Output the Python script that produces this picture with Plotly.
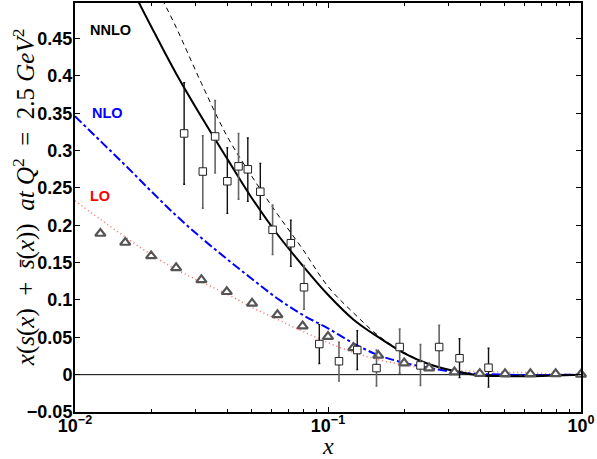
import plotly.graph_objects as go

# ---------------- data ----------------
# curves: x positions (log10) and values
nnlo_logx = [-1.80, -1.75, -1.70, -1.60, -1.50, -1.40, -1.30, -1.20, -1.10, -1.00,
             -0.90, -0.80, -0.70, -0.60, -0.50, -0.40, -0.30, -0.20, -0.10, 0.00]
nnlo_y = [0.535, 0.500, 0.467, 0.403, 0.345, 0.290, 0.236, 0.188, 0.146, 0.107,
          0.074, 0.050, 0.029, 0.014, 0.005, -0.001, -0.002, -0.002, -0.001, 0.000]

nnlo2_logx = [-1.70, -1.651, -1.60, -1.50, -1.40, -1.30, -1.20, -1.10, -1.00,
              -0.90, -0.80, -0.70, -0.60, -0.50, -0.40, -0.30, -0.20, -0.10, 0.00]
nnlo2_y = [0.535, 0.500, 0.465, 0.390, 0.320, 0.265, 0.215, 0.168, 0.118,
           0.083, 0.052, 0.030, 0.014, 0.005, -0.001, -0.002, -0.002, -0.001, 0.000]

nlo_logx = [-2.0, -1.9, -1.8, -1.7, -1.6, -1.5, -1.4, -1.3, -1.2, -1.1, -1.0,
            -0.9, -0.8, -0.7, -0.6, -0.5, -0.4, -0.3, -0.2, -0.1, 0.0]
nlo_y = [0.346, 0.313, 0.280, 0.246, 0.213, 0.183, 0.155, 0.128, 0.102, 0.080, 0.062,
         0.042, 0.026, 0.016, 0.009, 0.0035, 0.001, 0.0, -0.0005, -0.0003, 0.0]

lo_logx = [-2.0, -1.9, -1.8, -1.7, -1.6, -1.5, -1.4, -1.3, -1.2, -1.1, -1.0,
           -0.9, -0.8, -0.7, -0.6, -0.5, -0.4, -0.3, -0.2, -0.1, 0.0]
lo_y = [0.233, 0.208, 0.184, 0.161, 0.141, 0.124, 0.108, 0.090, 0.074, 0.058, 0.043,
        0.030, 0.020, 0.013, 0.008, 0.0055, 0.0045, 0.0035, 0.0025, 0.001, 0.0]

# data set A (squares, darker error bars)
sqA_x = [0.027, 0.040, 0.0482, 0.054, 0.0713, 0.0924, 0.1305, 0.331, 0.431]
sqA_y = [0.323, 0.259, 0.275, 0.245, 0.176, 0.041, 0.033, 0.022, 0.0093]
sqA_up = [0.068, 0.045, 0.042, 0.038, 0.031, 0.026, 0.026, 0.026, 0.026]
sqA_dn = [0.068, 0.043, 0.043, 0.037, 0.031, 0.026, 0.026, 0.026, 0.026]

# data set B (squares, grey error bars)
sqB_x = [0.032, 0.0358, 0.0443, 0.0604, 0.0804, 0.1105, 0.1555, 0.192, 0.232, 0.275]
sqB_y = [0.272, 0.319, 0.279, 0.194, 0.117, 0.018, 0.0088, 0.037, 0.0124, 0.037]
sqB_up = [0.048, 0.048, 0.044, 0.033, 0.029, 0.0255, 0.024, 0.024, 0.028, 0.029]
sqB_dn = [0.049, 0.049, 0.044, 0.033, 0.0295, 0.0265, 0.024, 0.035, 0.027, 0.028]

# triangles
tri_x = [0.0126, 0.0158, 0.0200, 0.0251, 0.0316, 0.0398, 0.0501, 0.0631, 0.0794, 0.100,
         0.126, 0.158, 0.200, 0.251, 0.316, 0.398, 0.501, 0.631, 0.794, 1.000]
tri_y = [0.189, 0.177, 0.159, 0.143, 0.127, 0.111, 0.0955, 0.080, 0.065, 0.051,
         0.036, 0.0257, 0.0155, 0.0088, 0.0035, 0.0013, 0.001, 0.001, 0.001, 0.0005]

x_major = [0.01, 0.1, 1]
x_major_text = ["10<sup>−2</sup>", "10<sup>−1</sup>", "10<sup>0</sup>"]
x_minor = [m * d for d in (0.01, 0.1) for m in range(2, 10)]
y_ticks = [-0.05, 0, 0.05, 0.1, 0.15, 0.2, 0.25, 0.3, 0.35, 0.4, 0.45]
y_text = ["−0.05", "0", "0.05", "0.1", "0.15", "0.2", "0.25", "0.3", "0.35", "0.4", "0.45"]

curve_labels = ["NNLO", "NLO", "LO"]

# ---------------- figure ----------------
fig = go.Figure()

# zero line
fig.add_trace(go.Scatter(x=[0.01, 1], y=[0, 0], mode="lines",
                         line=dict(color="black", width=1), hoverinfo="skip"))

fig.add_trace(go.Scatter(x=[10 ** v for v in lo_logx], y=lo_y, mode="lines",
                         line=dict(color="#ff6a6a", width=1.5, dash="1px,3px", shape="spline")))
fig.add_trace(go.Scatter(x=[10 ** v for v in nlo_logx], y=nlo_y, mode="lines",
                         line=dict(color="#0000ff", width=2, dash="dashdot", shape="spline")))
fig.add_trace(go.Scatter(x=[10 ** v for v in nnlo2_logx], y=nnlo2_y, mode="lines",
                         line=dict(color="black", width=1, dash="5px,4px", shape="spline")))
fig.add_trace(go.Scatter(x=[10 ** v for v in nnlo_logx], y=nnlo_y, mode="lines",
                         line=dict(color="black", width=2, shape="spline")))

fig.add_trace(go.Scatter(x=tri_x, y=tri_y, mode="markers", cliponaxis=False,
                         marker=dict(symbol="triangle-up", size=9, color="white",
                                     line=dict(color="#555555", width=2.2))))

fig.add_trace(go.Scatter(x=sqB_x, y=sqB_y, mode="markers",
                         error_y=dict(type="data", symmetric=False, array=sqB_up, arrayminus=sqB_dn,
                                      color="#666666", thickness=1.6, width=1),
                         marker=dict(symbol="square", size=7.5, color="white",
                                     line=dict(color="#222222", width=1))))
fig.add_trace(go.Scatter(x=sqA_x, y=sqA_y, mode="markers",
                         error_y=dict(type="data", symmetric=False, array=sqA_up, arrayminus=sqA_dn,
                                      color="#111111", thickness=1.4, width=1),
                         marker=dict(symbol="square", size=7.5, color="white",
                                     line=dict(color="#222222", width=1))))

label_colors = ["black", "#0000ff", "#ff0000"]
label_pos = [(0.026, 0.934), (0.030, 0.730), (0.026, 0.527)]
for txt, col, (px, py) in zip(curve_labels, label_colors, label_pos):
    fig.add_annotation(x=px, y=py, xref="paper", yref="paper", text=txt,
                       showarrow=False, xanchor="left", yanchor="middle",
                       font=dict(family="Liberation Sans", size=14.5, color=col, weight="bold"))

# axis titles
sp = "\u00a0"
ytitle = ("<i>x</i>(<i>s</i>(<i>x</i>)" + sp * 2 + "+" + sp * 2 + "<i>s\u0304</i>(<i>x</i>))" + sp * 2 +
          "<i>at" + sp + "Q</i><sup>2</sup>" + sp * 2 + "=" + sp * 2 + "2.5" + sp + "<i>GeV</i><sup>2</sup>")
fig.add_annotation(x=-0.101, y=0.525, xref="paper", yref="paper", textangle=-90,
                   text=ytitle, showarrow=False, xanchor="center", yanchor="middle",
                   font=dict(family="Liberation Serif", size=25, color="black"))
fig.add_annotation(x=0.5, y=-0.083, xref="paper", yref="paper", text="<i>x</i>",
                   showarrow=False, xanchor="center", yanchor="middle",
                   font=dict(family="Liberation Serif", size=24, color="black"))

fig.update_xaxes(type="log", range=[-2, 0], tickvals=x_major, ticktext=x_major_text,
                 ticks="inside", ticklen=5, tickwidth=1, tickcolor="black",
                 minor=dict(tickvals=x_minor, ticks="inside", ticklen=3, tickcolor="black"),
                 showline=True, linecolor="black", linewidth=2, mirror="ticks",
                 showgrid=False, zeroline=False, ticklabelstandoff=-4,
                 tickfont=dict(family="Liberation Sans", size=18, color="black", weight="bold"))
fig.update_yaxes(range=[-0.05, 0.4977], tickvals=y_ticks, ticktext=y_text,
                 ticks="inside", ticklen=5, tickwidth=1, tickcolor="black",
                 showline=True, linecolor="black", linewidth=2, mirror="ticks",
                 showgrid=False, zeroline=False, ticklabelstandoff=-3,
                 tickfont=dict(family="Liberation Sans", size=18, color="black", weight="bold"))

fig.update_layout(width=597, height=459, margin=dict(l=75, r=16, t=1, b=47),
                  plot_bgcolor="white", paper_bgcolor="white", showlegend=False)

fig.write_html("out.html", config={"displayModeBar": False},
               post_script="document.body.style.margin='0';document.body.style.padding='0';"
                           "document.body.style.overflow='hidden';")
